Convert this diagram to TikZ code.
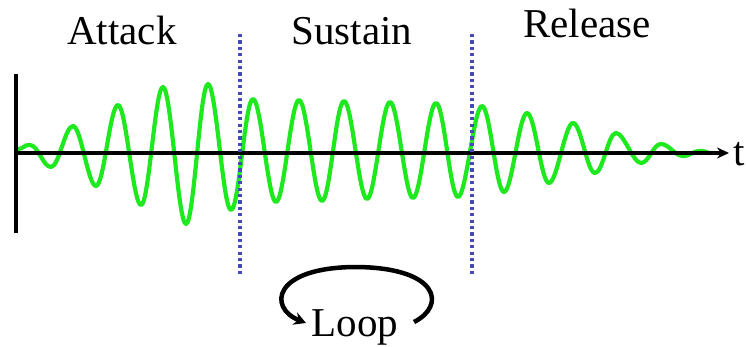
\documentclass[tikz,border=0pt]{standalone}
\usepackage{fontspec}
\setmainfont{Liberation Serif}
\usetikzlibrary{arrows.meta}
\definecolor{wavegreen}{RGB}{30,232,30}
\definecolor{dotblue}{RGB}{72,72,184}
\tikzset{
  wave/.style={wavegreen, line width=4.2pt, line join=round, line cap=round},
  axisline/.style={black, line width=3.6pt},
  divider/.style={dotblue, line width=3.6pt, dash pattern=on 3.2pt off 3.2pt},
  label/.style={font=\fontsize{41}{41}\selectfont, anchor=base, inner sep=0pt},
  looparrow/.style={black, line width=4.5pt, -{Stealth[length=12pt,width=13pt]}}
}
\begin{document}
\begin{tikzpicture}[x=1pt,y=-1pt]
\useasboundingbox (0,0) rectangle (746,347);
% wave
\draw[wave] (17,149)
  \foreach \x/\y in {30/145,51/167,73/126,96/186,118/105,141/205,163/87,186/224,208/84,231/210,
                     253/99,276/202,299/100,322/201,344/101,367/199,390/102,413/198,436/103,458/197,
                     482/106,504/192,527/113,549/183,573/123,595/173,616/133,641/163,661/144,683/156,700/151,712/153}
  { .. controls +(8,0) and +(-8,0) .. (\x,\y) };
% axes
\coordinate (ytop) at (16,74);
\coordinate (ybot) at (16,233);
\coordinate (xstart) at (16,153);
\coordinate (xend) at (729,153);
\draw[axisline] (ytop) -- (ybot);
\draw[axisline, -{Stealth[length=12pt,width=11pt]}] (xstart) -- (xend);
\node[label, anchor=base west] (t) at (733,166) {t};
% dividers
\coordinate (d1top) at (240,34);
\coordinate (d1bot) at (240,277);
\coordinate (d2top) at (472,34);
\coordinate (d2bot) at (472,277);
\draw[divider] (d1top) -- (d1bot);
\draw[divider] (d2top) -- (d2bot);
% labels
\node[label] (attack) at (122,45) {Attack};
\node[label] (sustain) at (352,45) {Sustain};
\node[label] (release) at (587,38) {Release};
\node[label] (loop) at (355,336) {Loop};
% loop arrow
\coordinate (lstart) at (414,322);
\coordinate (lend) at (306,323);
\draw[looparrow] (lstart) .. controls (446,306) and (440,268) .. (357,267)
  .. controls (272,267) and (268,308) .. (lend);
\end{tikzpicture}
\end{document}
